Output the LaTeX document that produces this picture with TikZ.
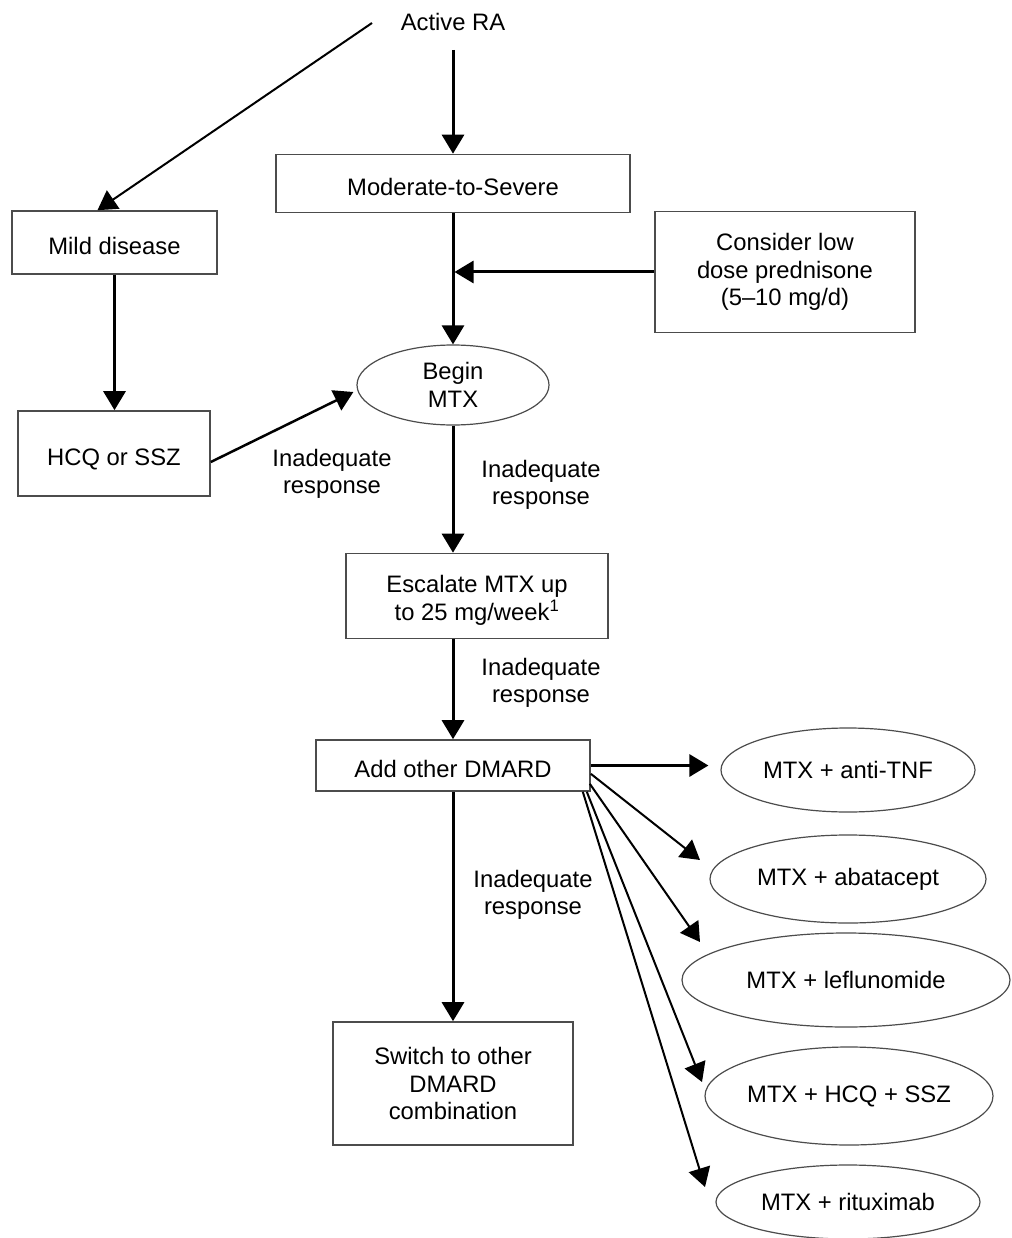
\documentclass[tikz,border=0pt]{standalone}
\usepackage{fontspec}
\setmainfont{Liberation Sans}
\usetikzlibrary{arrows.meta,shapes.geometric,calc}
\begin{document}
\begin{tikzpicture}[x=1pt,y=-1pt,
  every node/.style={font=\fontsize{23.8}{27.5}\selectfont, align=center, text=black},
  box/.style={draw=black!70, line width=1.6pt, rectangle, inner sep=0pt},
  onebox/.style={box, text height=24pt, text depth=0pt},
  oval/.style={draw=black!70, line width=1.2pt, ellipse, inner sep=0pt},
  arr/.style={line width=3pt, -{Triangle[length=19pt,width=22pt]}},
  marr/.style={line width=2.5pt, -{Triangle[length=19pt,width=22pt]}},
  tarr/.style={line width=2pt, -{Triangle[length=19pt,width=22pt]}},
  lbl/.style={inner sep=0pt}]
\useasboundingbox (0,0) rectangle (1011,1238);
\fill[white] (0,0) rectangle (1011,1238);

% nodes
\node (active) at (453,22) {Active RA};
\node[onebox, minimum width=354pt, minimum height=58pt] (moderate) at (453,183.5) {Moderate-to-Severe};
\node[onebox, minimum width=205pt, minimum height=63pt] (mild) at (114.5,242.5) {Mild disease};
\node[box, minimum width=260pt, minimum height=121pt] (consider) at (785,272) {Consider low\\dose prednisone\\(5\textendash 10 mg/d)};
\node[oval, minimum width=192pt, minimum height=80pt] (begin) at (453,385) {Begin\\MTX};
\node[onebox, minimum width=192pt, minimum height=85pt] (hcq) at (114,453.5) {HCQ or SSZ};
\node[box, minimum width=262pt, minimum height=85pt] (escalate) at (477,596) {\rule{0pt}{26pt}Escalate MTX up\\to 25 mg/week\textsuperscript{1}};
\node[onebox, minimum width=274pt, minimum height=51pt] (add) at (453,765.5) {Add other DMARD};
\node[box, minimum width=240pt, minimum height=123pt] (switch) at (453,1083.5) {Switch to other\\DMARD\\combination};

\node[oval, minimum width=254pt, minimum height=84pt] (tnf) at (848,770) {MTX + anti-TNF};
\node[oval, minimum width=276pt, minimum height=88pt] (abata) at (848,879) {MTX + abatacept};
\node[oval, minimum width=328pt, minimum height=94pt] (leflu) at (846,980) {MTX + leflunomide};
\node[oval, minimum width=284pt, minimum height=98pt] (hcqssz) at (849,1096) {MTX + HCQ + SSZ};
\node[oval, minimum width=264pt, minimum height=74pt] (ritux) at (848,1202) {MTX + rituximab};

% labels
\node[lbl] (l1) at (332,474) {Inadequate\\response};
\node[lbl] (l2) at (541,485) {Inadequate\\response};
\node[lbl] (l3) at (541,683) {Inadequate\\response};
\node[lbl] (l4) at (533,895) {Inadequate\\response};

% free ends
\coordinate (a0) at (372,23);
\coordinate (a1) at (453,50);
\coordinate (t2) at (700,860);
\coordinate (t3) at (700,942);
\coordinate (t4) at (702,1082);
\coordinate (t5) at (705,1187);

% connectors
\draw[arr] (a1) -- (moderate.north);
\draw[tarr] (a0) -- ($(mild.north)+(-17,0)$);
\draw[arr] (moderate.south) -- (begin.north);
\draw[arr, shorten >=1.5pt] (consider.west) -- (consider.west -| moderate.south);
\draw[arr] (mild.south) -- (mild.south |- hcq.north);
\draw[marr] ($(hcq.east)+(0,8.5)$) -- ($(begin.west)+(-3,7)$);
\draw[arr] (begin.south) -- (begin.south |- escalate.north);
\draw[arr] (add.north |- escalate.south) -- (add.north);
\draw[arr] (add.south) -- (switch.north);
\draw[arr] (add.east) -- ($(add.east -| tnf.west)+(-12,0)$);
\draw[tarr] ($(add.south east)+(0,-18)$) -- (t2);
\draw[tarr] ($(add.south east)+(-1,-8)$) -- (t3);
\draw[tarr] ($(add.south east)+(-4,0)$) -- (t4);
\draw[tarr] ($(add.south east)+(-8,0)$) -- (t5);
\end{tikzpicture}
\end{document}
